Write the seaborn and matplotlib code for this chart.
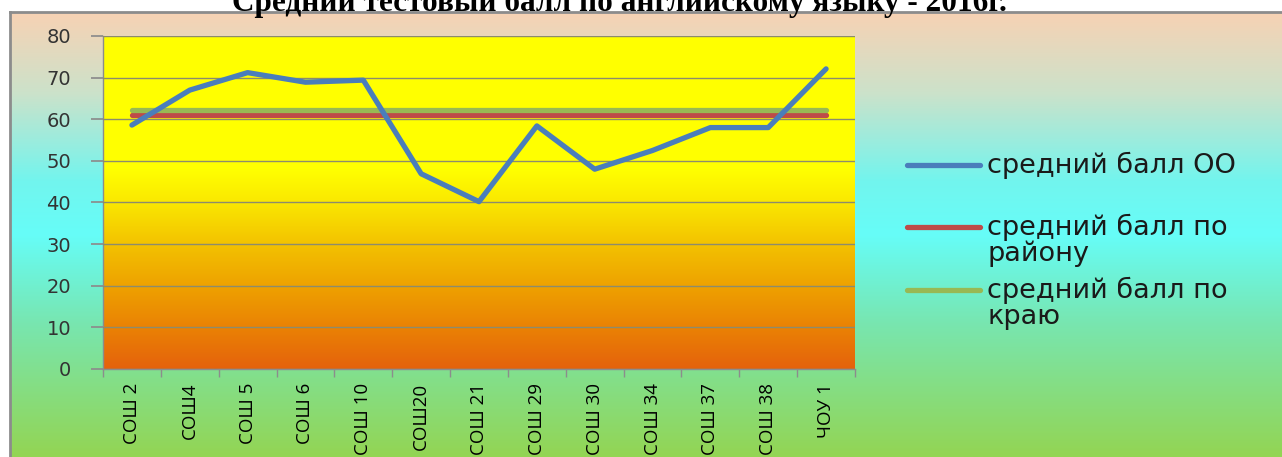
import numpy as np
import pandas as pd
import matplotlib.pyplot as plt
from matplotlib.colors import LinearSegmentedColormap
from matplotlib.lines import Line2D
import seaborn as sns

schools = ["СОШ 2", "СОШ4", "СОШ 5", "СОШ 6", "СОШ 10", "СОШ20", "СОШ 21",
           "СОШ 29", "СОШ 30", "СОШ 34", "СОШ 37", "СОШ 38", "ЧОУ 1"]
school_avg = [58.6, 67.0, 71.2, 68.9, 69.4, 46.9, 40.2, 58.4, 48.0, 52.5, 58.0, 58.0, 72.1]
district_avg = [61.0] * 13
region_avg = [62.2] * 13

labels = ["средний балл ОО", "средний балл по\nрайону", "средний балл по\nкраю"]
colors = ["#4A7EBB", "#BE4B48", "#98B954"]

sns.set_theme(style="white")
plt.rcParams['font.family'] = ['DejaVu Sans']

W, H = 1282, 457
fig = plt.figure(figsize=(W / 100, H / 100), dpi=100)
fig.patch.set_facecolor("white")

# outer chart background (gradient)
bg = fig.add_axes([10 / W, 0, 1 - 10 / W, (H - 12) / H])
outer = LinearSegmentedColormap.from_list(
    "outer", [(0, "#93D553"), (0.3, "#78E6B0"), (0.5, "#66FDF8"),
              (0.62, "#72F5EE"), (0.82, "#CCE2CA"), (1, "#F7D2B4")])
bg.imshow(np.linspace(0, 1, 256).reshape(-1, 1), cmap=outer, aspect="auto",
          origin="lower", extent=[0, 1, 0, 1])
bg.set_xticks([])
bg.set_yticks([])
for s in ["right", "bottom"]:
    bg.spines[s].set_visible(False)
for s in ["left", "top"]:
    bg.spines[s].set_color("#8C8C8C")
    bg.spines[s].set_linewidth(2)

# plot area
ax = fig.add_axes([103 / W, (H - 369) / H, (855 - 103) / W, (369 - 36) / H])
inner = LinearSegmentedColormap.from_list(
    "inner", [(0, "#E5620C"), (0.125, "#EA8204"), (0.25, "#EEA200"),
              (0.375, "#F3C200"), (0.5, "#FAE800"), (0.6, "#FFFF00"), (1, "#FFFF00")])
ax.imshow(np.linspace(0, 1, 256).reshape(-1, 1), cmap=inner, aspect="auto",
          origin="lower", extent=[-0.5, 12.5, 0, 80], zorder=0)

df = pd.DataFrame({"school": schools, "oo": school_avg,
                   "district": district_avg, "region": region_avg})
x = np.arange(len(schools))
sns.lineplot(x=x, y=df["district"], ax=ax, color=colors[1], lw=3.8, zorder=3)
sns.lineplot(x=x, y=df["region"], ax=ax, color=colors[2], lw=3.8, zorder=3)
sns.lineplot(x=x, y=df["oo"], ax=ax, color=colors[0], lw=3.8, zorder=4)

ax.set_xlim(-0.5, 12.5)
ax.set_ylim(0, 80)
ax.set_yticks(range(0, 81, 10))
ax.set_yticklabels([str(v) for v in range(0, 81, 10)], fontsize=14, color="#333333")
ax.set_xticks(x)
ax.set_xticklabels(schools, rotation=90, fontsize=13.5, color="black", family="Open Sans")
ax.set_xticks(np.arange(-0.5, 13, 1), minor=True)
ax.tick_params(axis="x", which="major", length=0, pad=10)
ax.tick_params(axis="x", which="minor", length=6, color="#8C8C8C", direction="out", bottom=True)
ax.tick_params(axis="y", length=9, color="#8C8C8C", direction="out", left=True, pad=14)
ax.set_xlabel("")
ax.set_ylabel("")
ax.grid(axis="y", color="#8C8C6C", lw=1)
ax.set_axisbelow(False)
for line in ax.get_ygridlines():
    line.set_zorder(1)
for s in ["top", "right"]:
    ax.spines[s].set_visible(False)
for s in ["left", "bottom"]:
    ax.spines[s].set_color("#8C8C8C")
    ax.spines[s].set_linewidth(1)

# legend, drawn by hand so the marker sits on the first text line
leg_y = [165, 227, 290]
for c, lab, yy in zip(colors, labels, leg_y):
    fy = 1 - yy / H
    fig.add_artist(Line2D([907 / W, 980 / W], [fy, fy], transform=fig.transFigure,
                          color=c, lw=3.8, solid_capstyle="round"))
    fig.text(987 / W, fy, lab.split("\n")[0], ha="left", va="center",
             fontsize=19.5, color="#1A1A1A")
    if "\n" in lab:
        fig.text(987 / W, 1 - (yy + 27) / H, lab.split("\n")[1], ha="left",
                 va="center", fontsize=19.5, color="#1A1A1A")

fig.text(619 / W, 1 - 11 / H, "Средний тестовый балл по английскому языку - 2016г.",
         ha="center", va="baseline", fontsize=22.5, fontweight="bold",
         family="Liberation Serif", color="black")

fig.savefig("out.png", dpi=100)
